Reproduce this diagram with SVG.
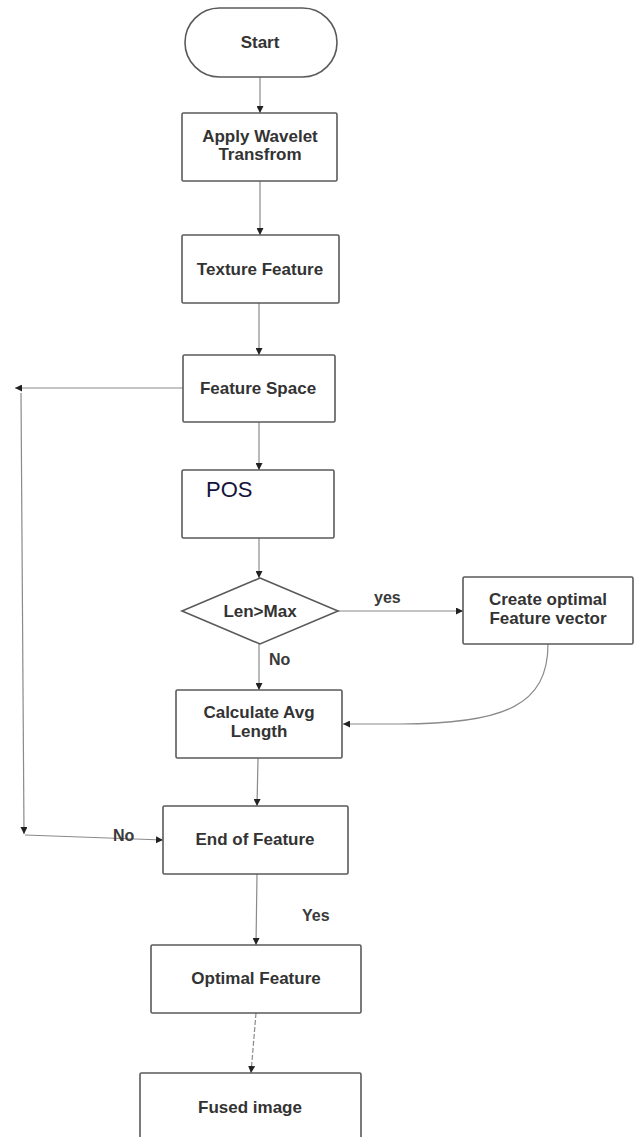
<svg xmlns="http://www.w3.org/2000/svg" width="635" height="1137" viewBox="0 0 635 1137">
  <style>
    .box { fill: #ffffff; stroke: #5a5a5a; stroke-width: 1.6; }
    .lbl { font-family: "Liberation Sans", Arial, sans-serif; font-weight: bold; font-size: 17px; fill: #333333; text-anchor: middle; }
    .tag { font-family: "Liberation Sans", Arial, sans-serif; font-weight: bold; font-size: 16px; fill: #3a3a3a; }
    .link { fill: none; stroke: #8a8a8a; stroke-width: 1.2; }
  </style>
  <defs>
    <marker id="arrow" viewBox="0 0 10 10" refX="10" refY="5" markerWidth="7" markerHeight="7" markerUnits="userSpaceOnUse" orient="auto">
      <path d="M0,0 L10,5 L0,10 z" fill="#222222"/>
    </marker>
  </defs>

  <rect width="635" height="1137" fill="#ffffff"/>

  <!-- connectors -->
  <g id="connectors">
    <line class="link" x1="260" y1="77" x2="260" y2="113" marker-end="url(#arrow)"/>
    <line class="link" x1="260" y1="181" x2="260" y2="235" marker-end="url(#arrow)"/>
    <line class="link" x1="259" y1="303" x2="259" y2="355" marker-end="url(#arrow)"/>
    <line class="link" x1="259" y1="422" x2="259" y2="470" marker-end="url(#arrow)"/>
    <line class="link" x1="259" y1="538" x2="259" y2="578" marker-end="url(#arrow)"/>
    <line class="link" x1="338" y1="611" x2="463" y2="611" marker-end="url(#arrow)"/>
    <line class="link" x1="259" y1="644" x2="259" y2="690" marker-end="url(#arrow)"/>
    <path class="link" d="M548,644 C548,705 505,724 400,724 L343,724" marker-end="url(#arrow)"/>
    <line class="link" x1="258" y1="758" x2="257" y2="806" marker-end="url(#arrow)"/>
    <!-- loop back from Feature Space -->
    <line class="link" x1="183" y1="388" x2="15" y2="388" marker-end="url(#arrow)"/>
    <line class="link" x1="21" y1="393" x2="24" y2="834" marker-end="url(#arrow)"/>
    <line class="link" x1="25" y1="835" x2="163" y2="840" marker-end="url(#arrow)"/>
    <line class="link" x1="257" y1="874" x2="256" y2="945" marker-end="url(#arrow)"/>
    <line class="link" x1="256" y1="1013" x2="251" y2="1073" stroke-dasharray="5,2" marker-end="url(#arrow)"/>
    <text class="tag" x="374" y="603">yes</text>
    <text class="tag" x="269" y="665">No</text>
    <text class="tag" x="113" y="841">No</text>
    <text class="tag" x="302" y="921">Yes</text>
  </g>

  <g id="start">
    <rect class="box" x="185" y="8" width="152" height="69" rx="34.5" ry="34.5"/>
    <text class="lbl" x="260" y="48">Start</text>
  </g>

  <g id="wavelet">
    <rect class="box" x="182" y="113" width="155" height="68" rx="1.5"/>
    <text class="lbl" x="260" y="142">Apply Wavelet</text>
    <text class="lbl" x="260" y="160">Transfrom</text>
  </g>

  <g id="texture">
    <rect class="box" x="182" y="235" width="157" height="68" rx="1.5"/>
    <text class="lbl" x="260" y="275">Texture Feature</text>
  </g>

  <g id="feature-space">
    <rect class="box" x="183" y="355" width="152" height="67" rx="1.5"/>
    <text class="lbl" x="258" y="394">Feature Space</text>
  </g>

  <g id="pos">
    <rect class="box" x="182" y="470" width="152" height="68" rx="1.5"/>
    <text x="206" y="497" font-family="'Liberation Sans', Arial, sans-serif" font-size="22" fill="#14143c">POS</text>
  </g>

  <g id="decision">
    <polygon class="box" points="260,578 338,611 260,644 182,611"/>
    <text class="lbl" x="260" y="617">Len&gt;Max</text>
  </g>

  <g id="optimal-vector">
    <rect class="box" x="463" y="577" width="170" height="67" rx="1.5"/>
    <text class="lbl" x="548" y="605">Create optimal</text>
    <text class="lbl" x="548" y="624">Feature vector</text>
  </g>

  <g id="avg-length">
    <rect class="box" x="176" y="690" width="166" height="68" rx="1.5"/>
    <text class="lbl" x="259" y="718">Calculate Avg</text>
    <text class="lbl" x="259" y="737">Length</text>
  </g>

  <g id="end-feature">
    <rect class="box" x="163" y="806" width="185" height="68" rx="1.5"/>
    <text class="lbl" x="255" y="845">End of Feature</text>
  </g>

  <g id="optimal-feature">
    <rect class="box" x="151" y="945" width="210" height="68" rx="1.5"/>
    <text class="lbl" x="256" y="984">Optimal Feature</text>
  </g>

  <g id="fused">
    <rect class="box" x="140" y="1073" width="221" height="80" rx="1.5"/>
    <text class="lbl" x="250" y="1113">Fused image</text>
  </g>
</svg>
